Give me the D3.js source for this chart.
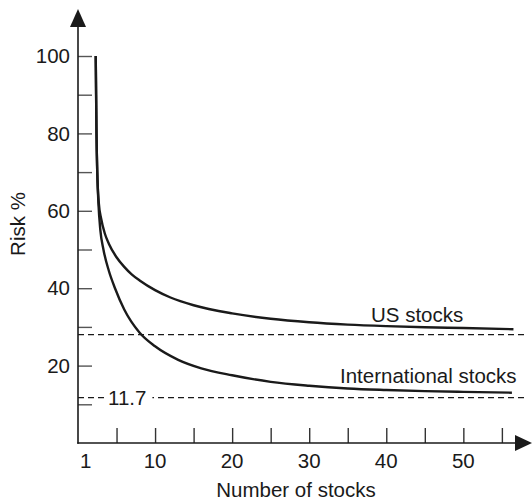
<!DOCTYPE html>
<html>
<head>
<meta charset="utf-8">
<script src="https://cdn.jsdelivr.net/npm/d3@7"></script>
<style>
  body { margin: 0; background: #fff; }
  svg { display: block; font-family: 'Liberation Sans', Arial, sans-serif; }
</style>
</head>
<body>
<svg id="chart" width="532" height="501"></svg>
<script>
// Risk (%) against the number of stocks held.
var usStocks = [
  [2.3, 100], [2.35, 90], [2.4, 80], [2.5, 70], [2.7, 62], [3, 58],
  [3.5, 54], [4, 51.5], [5, 48], [6, 45.5], [7, 43.5], [8, 42],
  [10, 39.5], [12, 37.6], [15, 35.6], [20, 33.5], [25, 32.1], [30, 31.2],
  [35, 30.6], [40, 30.2], [45, 29.9], [50, 29.7], [56.5, 29.4]
];
var intlStocks = [
  [2.3, 100], [2.35, 90], [2.4, 80], [2.5, 70], [2.65, 62], [2.9, 55],
  [3.3, 50], [4, 44.5], [4.8, 40], [6, 34.5], [8, 28.5], [10, 25],
  [13, 21.5], [16, 19.3], [20, 17.5], [25, 15.8], [30, 14.8], [35, 14.1],
  [40, 13.7], [45, 13.4], [50, 13.2], [56.3, 13]
];
var usFloor = 28;
var intlFloor = 11.7;

var xTicks = [5, 10, 15, 20, 25, 30, 35, 40, 45, 50, 55];
var xLabels = [1, 10, 20, 30, 40, 50];
var yTicks = [10, 20, 30, 40, 50, 60, 70, 80, 90, 100];
var yLabels = [20, 40, 60, 80, 100];

var svg = d3.select('#chart');

var x = d3.scaleLinear().domain([0, 58]).range([78, 525]);
var y = d3.scaleLinear().domain([0, 100]).range([443, 56]);

var ink = '#1a1a1a';
var fontSize = '20.5px';

// Dashed floor lines.
svg.append('line')
  .attr('x1', x(0)).attr('x2', x(58))
  .attr('y1', y(usFloor)).attr('y2', y(usFloor))
  .attr('stroke', ink).attr('stroke-width', 1.2)
  .attr('stroke-dasharray', '6,4');

svg.append('line')
  .attr('x1', x(0)).attr('x2', x(58))
  .attr('y1', y(intlFloor)).attr('y2', y(intlFloor))
  .attr('stroke', ink).attr('stroke-width', 1.2)
  .attr('stroke-dasharray', '6,4');

// The 11.7 label sits in a gap of the lower dashed line.
var floorLabel = svg.append('text')
  .attr('x', 108)
  .attr('y', y(intlFloor))
  .attr('dy', '0.35em')
  .attr('font-size', fontSize)
  .attr('fill', ink)
  .text(intlFloor);
var bb = floorLabel.node().getBBox();
svg.insert('rect', 'text')
  .attr('x', bb.x - 1).attr('y', y(intlFloor) - 3)
  .attr('width', bb.width + 7).attr('height', 6)
  .attr('fill', '#fff');

// Curves.
var line = d3.line()
  .x(function(d) { return x(d[0]); })
  .y(function(d) { return y(d[1]); })
  .curve(d3.curveMonotoneX);

[usStocks, intlStocks].forEach(function(series) {
  svg.append('path')
    .datum(series)
    .attr('d', line)
    .attr('fill', 'none')
    .attr('stroke', ink)
    .attr('stroke-width', 2.4);
});

// Axes: ticks point inwards, only some of them carry a label.
var yAxis = d3.axisRight(y)
  .tickValues(yTicks)
  .tickSize(14)
  .tickFormat('');
svg.append('g')
  .attr('transform', 'translate(' + x(0) + ',0)')
  .call(yAxis)
  .call(function(g) {
    g.select('.domain').remove();
    g.selectAll('.tick line').attr('stroke', '#555').attr('stroke-width', 1.4);
  });

var xAxis = d3.axisTop(x)
  .tickValues(xTicks)
  .tickSize(15)
  .tickFormat('');
svg.append('g')
  .attr('transform', 'translate(0,' + y(0) + ')')
  .call(xAxis)
  .call(function(g) {
    g.select('.domain').remove();
    g.selectAll('.tick line').attr('stroke', '#333').attr('stroke-width', 1.4);
  });

svg.append('g')
  .selectAll('text')
  .data(yLabels)
  .enter().append('text')
    .attr('x', 70)
    .attr('y', function(d) { return y(d); })
    .attr('dy', '0.35em')
    .attr('text-anchor', 'end')
    .attr('font-size', fontSize)
    .attr('fill', ink)
    .text(function(d) { return d; });

svg.append('g')
  .selectAll('text')
  .data(xLabels)
  .enter().append('text')
    .attr('x', function(d) { return x(d); })
    .attr('y', 468)
    .attr('text-anchor', 'middle')
    .attr('font-size', fontSize)
    .attr('fill', ink)
    .text(function(d) { return d; });

// Axis lines with arrow heads.
svg.append('line')
  .attr('x1', x(0)).attr('x2', x(0))
  .attr('y1', y(0) + 0.7).attr('y2', 24)
  .attr('stroke', ink).attr('stroke-width', 1.6);
svg.append('path')
  .attr('d', 'M' + x(0) + ',9 L' + (x(0) - 8) + ',27 L' + (x(0) + 8) + ',27 Z')
  .attr('fill', ink);

svg.append('line')
  .attr('x1', x(0) - 0.7).attr('x2', 518)
  .attr('y1', y(0)).attr('y2', y(0))
  .attr('stroke', ink).attr('stroke-width', 1.6);
svg.append('path')
  .attr('d', 'M532,' + y(0) + ' L515,' + (y(0) - 8) + ' L515,' + (y(0) + 8) + ' Z')
  .attr('fill', ink);

// Series and axis titles.
svg.append('text')
  .attr('x', 371).attr('y', 322)
  .attr('font-size', fontSize)
  .attr('fill', ink)
  .text('US stocks');

svg.append('text')
  .attr('x', 340).attr('y', 383)
  .attr('font-size', fontSize)
  .attr('fill', ink)
  .text('International stocks');

svg.append('text')
  .attr('x', 296).attr('y', 497)
  .attr('text-anchor', 'middle')
  .attr('font-size', fontSize)
  .attr('fill', ink)
  .text('Number of stocks');

svg.append('text')
  .attr('transform', 'translate(25,224) rotate(-90)')
  .attr('text-anchor', 'middle')
  .attr('font-size', fontSize)
  .attr('fill', ink)
  .text('Risk %');
</script>
</body>
</html>
